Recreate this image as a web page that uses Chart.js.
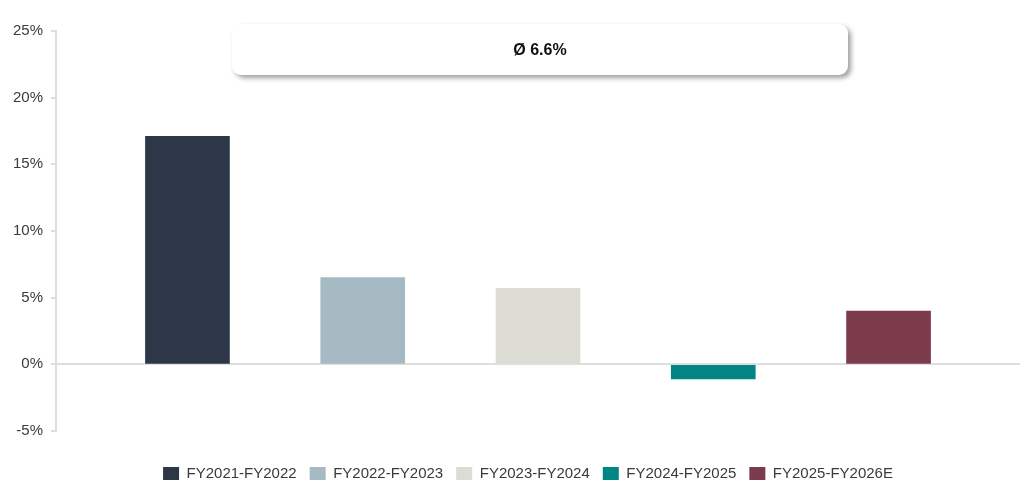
<!DOCTYPE html>
<html>
<head>
<meta charset="utf-8">
<script src="https://cdn.jsdelivr.net/npm/chart.js@4"></script>
<style>
  html, body { margin: 0; padding: 0; background: #fff; }
  #wrap { width: 1024px; height: 486px; }
</style>
</head>
<body>
<div id="wrap"><canvas id="c" width="1024" height="486"></canvas></div>
<script>
'use strict';

var periods = ['FY2021-FY2022', 'FY2022-FY2023', 'FY2023-FY2024', 'FY2024-FY2025', 'FY2025-FY2026E'];
var growth  = [17.1, 6.5, 5.7, -1.1, 4.0];
var colors  = ['#2e3747', '#a6bac3', '#dcdcd5', '#008584', '#7b3b4b'];
var avgGrowth = 6.6;
var yTicks = [-5, 0, 5, 10, 15, 20, 25];

var FONT = "'Liberation Sans', Arial, sans-serif";
var AXIS = '#dedede';

// rounded box with the average, floating above the bars
var avgBox = {
  id: 'avgBox',
  afterDraw: function(chart) {
    var ctx = chart.ctx;
    var x = 232, y = 24, w = 616, h = 51;
    ctx.save();
    ctx.shadowColor = 'rgba(0,0,0,0.38)';
    ctx.shadowBlur = 5;
    ctx.shadowOffsetX = 3;
    ctx.shadowOffsetY = 3;
    ctx.fillStyle = '#fff';
    ctx.beginPath();
    ctx.roundRect(x, y, w, h, 9);
    ctx.fill();
    ctx.restore();

    ctx.save();
    ctx.fillStyle = '#111';
    ctx.font = 'bold 16px ' + FONT;
    ctx.textAlign = 'center';
    ctx.textBaseline = 'middle';
    ctx.fillText('Ø ' + avgGrowth.toFixed(1) + '%', x + w / 2, y + h / 2 + 1);
    ctx.restore();
  }
};

// legend sits centred under the plot area, not the whole canvas
var legendShift = {
  id: 'legendShift',
  afterLayout: function(chart) {
    var lg = chart.legend;
    if (!lg) return;
    lg.left += 18;
    lg.right += 18;
  }
};

var datasets = periods.map(function(p, i) {
  return {
    label: p,
    data: [{ x: i, y: growth[i] }],
    backgroundColor: colors[i],
    borderWidth: 0,
    barThickness: 84,
    grouped: false
  };
});

new Chart(document.getElementById('c').getContext('2d'), {
  type: 'bar',
  data: { datasets: datasets },
  plugins: [avgBox, legendShift],
  options: {
    responsive: false,
    animation: false,
    layout: { padding: { top: 31, right: 4, bottom: -5, left: 0 } },
    scales: {
      x: {
        type: 'linear',
        offset: false,
        min: -0.75,
        max: 4.75,
        ticks: { display: false },
        grid: { display: false, offset: false },
        border: { display: false },
        afterFit: function(s) { s.height = 22; }
      },
      y: {
        min: -5,
        max: 25,
        afterBuildTicks: function(s) { s.ticks = yTicks.map(function(v) { return { value: v }; }); },
        afterFit: function(s) { s.width = 56; },
        ticks: {
          padding: 8,
          color: '#3a3a3a',
          font: { family: FONT, size: 15 },
          callback: function(v) { return v + '%'; }
        },
        grid: {
          tickLength: 5,
          tickColor: AXIS,
          lineWidth: 2,
          color: function(c) { return c.tick && c.tick.value === 0 ? AXIS : 'rgba(0,0,0,0)'; }
        },
        border: { color: AXIS, width: 2 }
      }
    },
    plugins: {
      tooltip: { enabled: false },
      legend: {
        position: 'bottom',
        labels: {
          boxWidth: 16,
          boxHeight: 13,
          padding: 13,
          color: '#3a3a3a',
          font: { family: FONT, size: 15 }
        }
      }
    }
  }
});
</script>
</body>
</html>
